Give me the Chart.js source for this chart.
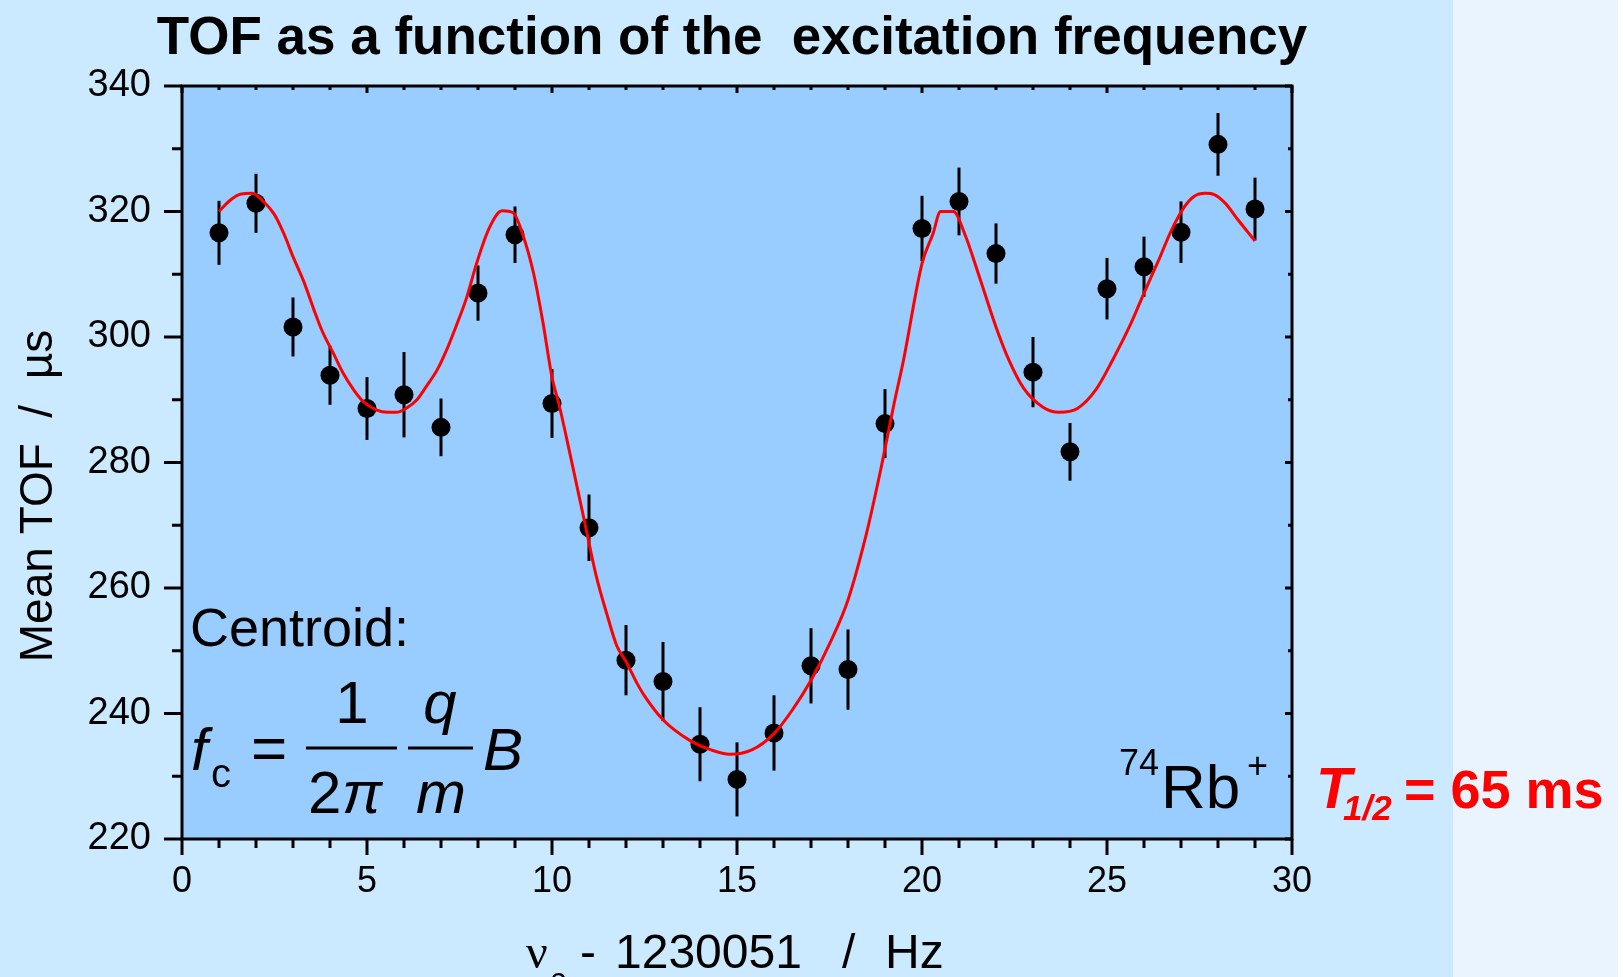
<!DOCTYPE html>
<html>
<head>
<meta charset="utf-8">
<title>TOF as a function of the excitation frequency</title>
<script src="https://cdn.jsdelivr.net/npm/chart.js@4.4.1/dist/chart.umd.min.js"></script>
<style>
  html, body { margin: 0; padding: 0; background: #cceaff; overflow: hidden; }
  canvas { display: block; }
</style>
</head>
<body>
<canvas id="tofChart" width="1623" height="977"></canvas>
<script>
// --- DATA ---
// excitation frequency offset (nu_c - 1230051 Hz)
const freq = [1, 2, 3, 4, 5, 6, 7, 8, 9, 10, 11, 12, 13, 14, 15, 16, 17, 18, 19, 20, 21, 22, 23, 24, 25, 26, 27, 28, 29];
// mean time of flight in microseconds, with error
const tof = [316.6, 321.3, 301.6, 293.9, 288.6, 290.8, 285.6, 307.0, 316.3, 289.4, 269.6, 248.5, 245.1, 235.1, 229.5,
             236.9, 247.6, 247.0, 286.2, 317.3, 321.6, 313.3, 294.4, 281.7, 307.7, 311.2, 316.7, 330.7, 320.4];
const tofErr = [5.1, 4.7, 4.7, 4.7, 5.0, 6.8, 4.6, 4.4, 4.5, 5.5, 5.3, 5.6, 6.3, 5.9, 5.9,
                6.0, 6.0, 6.4, 5.5, 5.2, 5.4, 4.8, 5.6, 4.6, 4.9, 4.8, 4.9, 5.0, 5.0];

// fitted resonance curve
const fitX = [1.0, 1.3, 1.6, 1.9, 2.2, 2.5, 2.75, 3.0, 3.3, 3.55, 3.8, 4.1, 4.35, 4.65, 4.9, 5.25, 5.55, 5.8,
              6.05, 6.35, 6.6, 6.9, 7.15, 7.4, 7.7, 7.95, 8.3, 8.65, 8.95, 9.2, 9.5, 9.75, 10.0, 10.2, 10.5,
              10.85, 11.2, 11.5, 11.75, 12.0, 12.3, 12.5, 13.0, 13.7, 14.3, 14.8, 15.4, 16.0, 16.5, 17.0,
              17.55, 18.0, 18.5, 18.9, 19.25, 19.5, 20.0, 20.3, 20.5, 20.85, 21.15, 21.55, 22.0, 22.35,
              22.75, 23.25, 23.7, 24.2, 24.7, 25.15, 25.65, 26.0, 26.4, 26.75, 27.1, 27.35, 27.65, 27.9,
              28.2, 28.55, 29.0];
const fitY = [320.0, 321.8, 322.8, 322.9, 321.6, 319.5, 316.5, 312.8, 308.7, 304.6, 300.8, 297.3, 294.3, 291.5,
              289.7, 288.4, 288.0, 288.0, 288.6, 290.0, 292.1, 294.8, 297.9, 301.6, 306.4, 311.5, 317.3, 320.1,
              319.8, 316.5, 310.2, 302.5, 293.6, 289.0, 281.0, 271.4, 261.8, 255.5, 250.8, 248.3, 244.8, 242.8,
              239.0, 235.8, 234.2, 233.5, 234.2, 236.8, 240.6, 245.3, 251.7, 258.1, 268.7, 279.3, 289.5, 296.3,
              311.7, 316.5, 320.0, 320.0, 316.5, 309.6, 301.6, 296.3, 291.8, 288.9, 288.0, 288.6, 291.6, 296.3,
              302.2, 307.0, 312.3, 317.1, 320.8, 322.4, 322.9, 322.7, 321.3, 318.6, 315.3];

// axis ranges
const xMin = 0, xMax = 30, xStep = 5;
const yMin = 220, yMax = 340, yStep = 20;

const SANS = '"Liberation Sans", Arial, sans-serif';
const SERIF = '"Liberation Serif", "Times New Roman", serif';

// --- DECORATIONS: backgrounds, error bars, frame, ticks, annotations ---
const decorations = {
  id: 'decorations',
  beforeDraw(chart) {
    const c = chart.ctx;
    const a = chart.chartArea;
    c.save();
    c.fillStyle = '#cceaff';
    c.fillRect(0, 0, 1453, chart.height);
    c.fillStyle = '#eaf4ff';
    c.fillRect(1453, 0, 165, chart.height);
    c.fillStyle = '#ffffff';
    c.fillRect(1618, 0, chart.width - 1618, chart.height);
    c.fillStyle = '#99ccff';
    c.fillRect(a.left, a.top, a.right - a.left, a.bottom - a.top);
    c.restore();
  },
  beforeDatasetsDraw(chart) {
    const c = chart.ctx;
    const xs = chart.scales.x, ys = chart.scales.y;
    c.save();
    c.strokeStyle = '#000';
    c.lineWidth = 3;
    for (let i = 0; i < freq.length; i++) {
      const px = xs.getPixelForValue(freq[i]);
      c.beginPath();
      c.moveTo(px, ys.getPixelForValue(tof[i] - tofErr[i]));
      c.lineTo(px, ys.getPixelForValue(tof[i] + tofErr[i]));
      c.stroke();
    }
    c.restore();
  },
  afterDraw(chart) {
    const c = chart.ctx;
    const a = chart.chartArea;
    const xs = chart.scales.x, ys = chart.scales.y;
    c.save();
    c.strokeStyle = '#000';
    c.lineWidth = 3;
    c.strokeRect(a.left, a.top, a.right - a.left, a.bottom - a.top);

    c.beginPath();
    // bottom axis ticks (outward) and top ticks (inward)
    for (let v = xMin; v <= xMax; v++) {
      const px = xs.getPixelForValue(v);
      const major = v % xStep === 0;
      c.moveTo(px, a.bottom);
      c.lineTo(px, a.bottom + (major ? 16 : 9));
      c.moveTo(px, a.top);
      c.lineTo(px, a.top + (major ? 7 : 4));
    }
    // left axis ticks (outward) and right ticks (inward)
    for (let v = yMin; v <= yMax; v += yStep / 2) {
      const py = ys.getPixelForValue(v);
      const major = (v - yMin) % yStep === 0;
      c.moveTo(a.left, py);
      c.lineTo(a.left - (major ? 18 : 10), py);
      c.moveTo(a.right, py);
      c.lineTo(a.right - (major ? 7 : 4), py);
    }
    c.stroke();

    c.fillStyle = '#000';
    c.textBaseline = 'alphabetic';

    // main title
    c.font = 'bold 53px ' + SANS;
    c.textAlign = 'center';
    c.fillText('TOF as a function of the  excitation frequency', 732, 54);

    // y axis title
    c.save();
    c.translate(52, 496);
    c.rotate(-Math.PI / 2);
    c.font = '46px ' + SANS;
    c.textAlign = 'center';
    c.fillText('Mean TOF  /  \u00b5s', 0, 0);
    c.restore();

    // x axis title
    c.textAlign = 'left';
    c.font = '48px ' + SERIF;
    c.fillText('\u03bd', 526, 968);
    c.font = '32px ' + SANS;
    c.fillText('c', 550, 990);
    c.font = '48px ' + SANS;
    c.fillText('-', 580, 968);
    c.fillText('1230051', 615, 968);
    c.fillText('/', 842, 968);
    c.fillText('Hz', 885, 968);

    // centroid formula
    c.font = '54px ' + SANS;
    c.fillText('Centroid:', 190, 646);
    c.font = 'italic 60px ' + SANS;
    c.fillText('f', 191, 770);
    c.font = '40px ' + SANS;
    c.fillText('c', 211, 787);
    c.font = '62px ' + SANS;
    c.fillText('=', 251, 769);
    c.lineWidth = 3;
    c.beginPath();
    c.moveTo(306, 748); c.lineTo(397, 748);
    c.moveTo(408, 748); c.lineTo(473, 748);
    c.stroke();
    c.font = '60px ' + SANS;
    c.textAlign = 'center';
    c.fillText('1', 352, 723);
    c.textAlign = 'left';
    c.fillText('2', 308, 813);
    c.font = 'italic 60px ' + SANS;
    c.fillText('\u03c0', 342, 813);
    c.textAlign = 'center';
    c.fillText('q', 440, 723);
    c.fillText('m', 441, 813);
    c.textAlign = 'left';
    c.fillText('B', 483, 770);

    // isotope label
    c.font = '36px ' + SANS;
    c.fillText('74', 1119, 775);
    c.font = '62px ' + SANS;
    c.fillText('Rb', 1161, 808);
    c.font = '36px ' + SANS;
    c.fillText('+', 1247, 778);

    // half-life
    c.fillStyle = '#ff0000';
    c.font = 'italic bold 58px ' + SANS;
    c.fillText('T', 1316, 808);
    c.font = 'italic bold 35px ' + SANS;
    c.fillText('1/2', 1343, 820);
    c.font = 'bold 54px ' + SANS;
    c.fillText('= 65 ms', 1404, 808);
    c.restore();
  }
};

// --- CHART.JS SETUP ---
const ctx = document.getElementById('tofChart');
const tofChart = new Chart(ctx, {
  type: 'scatter',
  data: {
    datasets: [{
      label: 'Fit',
      type: 'line',
      data: fitX.map((x, i) => ({ x: x, y: fitY[i] })),
      borderColor: '#ff0000',
      borderWidth: 3,
      pointRadius: 0,
      cubicInterpolationMode: 'monotone',
      fill: false,
      order: 0
    }, {
      label: 'Mean TOF',
      data: freq.map((x, i) => ({ x: x, y: tof[i] })),
      pointRadius: 9.5,
      pointBackgroundColor: '#000',
      pointBorderWidth: 0,
      order: 1
    }]
  },
  options: {
    responsive: false,
    animation: false,
    events: [],
    layout: { padding: { left: 0, right: 331, top: 86, bottom: 0 } },
    plugins: {
      legend: { display: false },
      tooltip: { enabled: false },
      title: { display: false }
    },
    scales: {
      x: {
        type: 'linear',
        min: xMin,
        max: xMax,
        afterFit(s) { s.height = 138; },
        ticks: { stepSize: xStep, color: '#000', padding: 6, font: { family: SANS, size: 36 } },
        grid: { display: true, drawOnChartArea: false, drawTicks: true, tickLength: 15, color: 'rgba(0,0,0,0)' },
        border: { display: false }
      },
      y: {
        type: 'linear',
        min: yMin,
        max: yMax,
        afterFit(s) { s.width = 182; },
        ticks: { stepSize: yStep, color: '#000', padding: 13, font: { family: SANS, size: 38 } },
        grid: { display: true, drawOnChartArea: false, drawTicks: true, tickLength: 18, color: 'rgba(0,0,0,0)' },
        border: { display: false }
      }
    }
  },
  plugins: [decorations]
});
</script>
</body>
</html>
